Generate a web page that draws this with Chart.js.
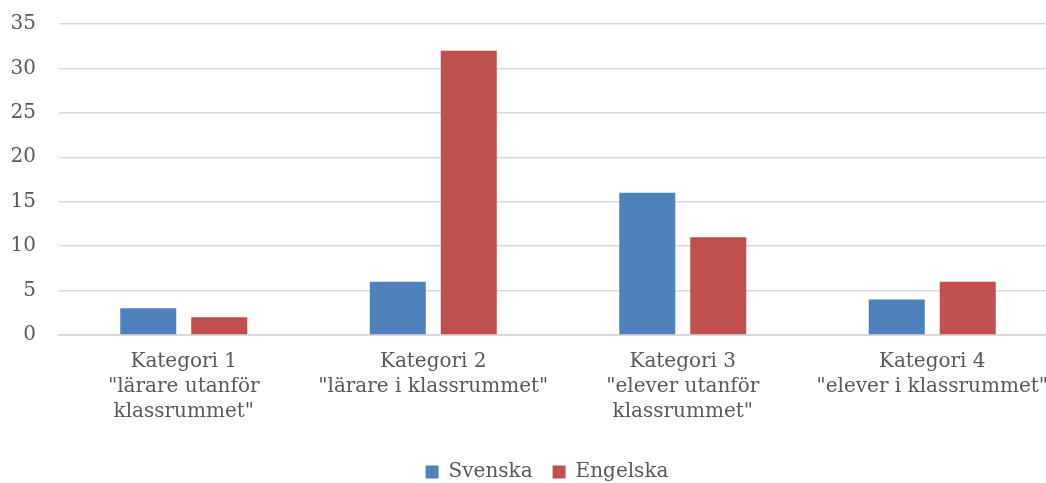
<!DOCTYPE html>
<html>
<head>
<meta charset="utf-8">
<script src="https://cdn.jsdelivr.net/npm/chart.js@4"></script>
<style>
	html, body { margin: 0; padding: 0; background: #fff; overflow: hidden; }
	#wrap { width: 1046px; height: 483px; overflow: hidden; }
	#box { width: 1086px; height: 483px; }
</style>
</head>
<body>
<div id="wrap"><div id="box"><canvas id="chart"></canvas></div></div>
<script>
// Chart data
const categories = [
	['Kategori 1', '"lärare utanför', 'klassrummet"'],
	['Kategori 2', '"lärare i klassrummet"'],
	['Kategori 3', '"elever utanför', 'klassrummet"'],
	['Kategori 4', '"elever i klassrummet"']
];
const svenska = [3, 6, 16, 4];
const engelska = [2, 32, 11, 6];
const yTicks = [0, 5, 10, 15, 20, 25, 30, 35];

const FONT = "'DejaVu Serif', serif";
const TEXT = '#595959';

// Nudge the legend to the right so it sits centred like the original
const legendShift = {
	id: 'legendShift',
	afterLayout: function(chart) {
		if (chart.legend) {
			chart.legend.left += 17;
			chart.legend.right += 17;
		}
	}
};

new Chart(document.getElementById('chart'), {
	type: 'bar',
	data: {
		labels: categories,
		datasets: [
			{ label: 'Svenska', data: svenska, backgroundColor: '#4f81bd' },
			{ label: 'Engelska', data: engelska, backgroundColor: '#c0504d' }
		]
	},
	plugins: [legendShift],
	options: {
		responsive: true,
		maintainAspectRatio: false,
		animation: false,
		categoryPercentage: 0.569,
		barPercentage: 0.789,
		layout: { padding: { top: 24, right: 29, left: 3, bottom: -9 } },
		plugins: {
			legend: {
				position: 'bottom',
				labels: {
					boxWidth: 13,
					boxHeight: 13,
					padding: 20,
					color: TEXT,
					font: { family: FONT, size: 20 }
				}
			},
			tooltip: { enabled: false }
		},
		scales: {
			x: {
				grid: { display: false },
				border: { color: '#d9d9d9', width: 2 },
				afterFit: function(axis) { axis.height = 107; },
				ticks: {
					color: TEXT,
					maxRotation: 0,
					autoSkip: false,
					padding: 6,
					font: { family: FONT, size: 20, lineHeight: 1.25 }
				}
			},
			y: {
				min: 0,
				max: 35,
				afterBuildTicks: function(axis) {
					axis.ticks = yTicks.map(v => ({ value: v }));
				},
				afterFit: function(axis) { axis.width = 56; },
				grid: {
					color: '#d9d9d9',
					lineWidth: 1.5,
					drawTicks: true,
					tickLength: 23,
					tickColor: 'rgba(0,0,0,0)'
				},
				border: { display: false },
				ticks: {
					color: TEXT,
					padding: 0,
					font: { family: FONT, size: 20 }
				}
			}
		}
	}
});
</script>
</body>
</html>
